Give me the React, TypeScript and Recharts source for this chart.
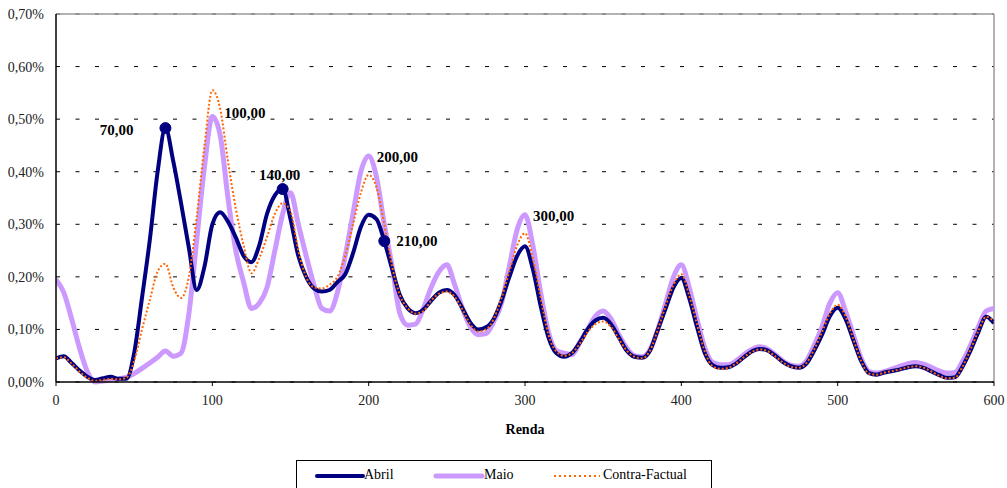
import React from "react";
import { LineChart, Line, XAxis, YAxis, CartesianGrid, ReferenceLine, Legend, LabelList } from "recharts";

const renda: number[] = [
  0, 5, 10, 15, 20, 25, 30, 35, 40, 45, 50, 55, 60, 65, 70, 75, 80, 85, 90, 95,
  100, 105, 110, 115, 120, 125, 130, 135, 140, 145, 150, 155, 160, 165, 170, 175, 180, 185, 190, 195,
  200, 205, 210, 215, 220, 225, 230, 235, 240, 245, 250, 255, 260, 265, 270, 275, 280, 285, 290, 295,
  300, 305, 310, 315, 320, 325, 330, 335, 340, 345, 350, 355, 360, 365, 370, 375, 380, 385, 390, 395,
  400, 405, 410, 415, 420, 425, 430, 435, 440, 445, 450, 455, 460, 465, 470, 475, 480, 485, 490, 495,
  500, 505, 510, 515, 520, 525, 530, 535, 540, 545, 550, 555, 560, 565, 570, 575, 580, 585, 590, 595, 600,
];

const abril: number[] = [
  0.045, 0.049, 0.036, 0.022, 0.01, 0.004, 0.007, 0.01, 0.006, 0.006, 0.055, 0.16, 0.27, 0.4, 0.483, 0.42, 0.34, 0.255, 0.175, 0.22,
  0.3, 0.323, 0.305, 0.275, 0.24, 0.228, 0.26, 0.32, 0.355, 0.367, 0.31, 0.24, 0.2, 0.178, 0.172, 0.175, 0.19, 0.205, 0.245, 0.295,
  0.318, 0.31, 0.268, 0.215, 0.165, 0.14, 0.131, 0.138, 0.155, 0.17, 0.175, 0.165, 0.14, 0.113, 0.1, 0.104, 0.12, 0.155, 0.2, 0.24,
  0.258, 0.215, 0.145, 0.085, 0.055, 0.048, 0.055, 0.075, 0.1, 0.117, 0.122, 0.11, 0.085, 0.06, 0.048, 0.046, 0.06, 0.1, 0.14, 0.18,
  0.198, 0.16, 0.105, 0.055, 0.032, 0.027, 0.028, 0.035, 0.047, 0.058, 0.063, 0.06, 0.05, 0.038, 0.03, 0.027, 0.035, 0.06, 0.09, 0.125,
  0.141, 0.12, 0.08, 0.04, 0.017, 0.014, 0.018, 0.021, 0.024, 0.028, 0.03, 0.027, 0.02, 0.013, 0.008, 0.009, 0.03, 0.06, 0.095, 0.124, 0.112,
];

const maio: number[] = [
  0.195, 0.17, 0.12, 0.065, 0.02, 0.0, 0.002, 0.004, 0.006, 0.009, 0.016, 0.026, 0.036, 0.047, 0.059, 0.049, 0.055, 0.13, 0.27, 0.41,
  0.505, 0.47, 0.35, 0.25, 0.19, 0.14, 0.15, 0.18, 0.25, 0.32, 0.36, 0.3, 0.24, 0.185, 0.14, 0.135, 0.17, 0.24, 0.32, 0.4,
  0.43, 0.39, 0.3, 0.22, 0.13, 0.108, 0.11, 0.14, 0.18, 0.21, 0.223, 0.185, 0.14, 0.105, 0.09, 0.092, 0.115, 0.15, 0.22, 0.29,
  0.318, 0.26, 0.17, 0.095, 0.06, 0.055, 0.052, 0.075, 0.1, 0.125, 0.135, 0.12, 0.09, 0.065, 0.05, 0.048, 0.062, 0.1, 0.15, 0.2,
  0.223, 0.18, 0.12, 0.065, 0.037, 0.033, 0.033, 0.04, 0.052, 0.062, 0.067, 0.063, 0.052, 0.04, 0.032, 0.03, 0.04, 0.07, 0.105, 0.15,
  0.17, 0.135, 0.09, 0.045, 0.02, 0.017, 0.02, 0.025, 0.03, 0.035, 0.037, 0.034, 0.028, 0.021, 0.017, 0.018, 0.04, 0.07, 0.105, 0.135, 0.14,
];

const contraFactual: number[] = [
  0.045, 0.047, 0.035, 0.02, 0.008, 0.002, 0.004, 0.006, 0.005, 0.008, 0.04, 0.1, 0.156, 0.21, 0.225, 0.18, 0.16, 0.2, 0.314, 0.45,
  0.555, 0.52, 0.42, 0.33, 0.26, 0.207, 0.235, 0.276, 0.32, 0.34, 0.325, 0.25, 0.2, 0.18, 0.178, 0.185, 0.2, 0.24, 0.3, 0.36,
  0.394, 0.37, 0.3, 0.22, 0.165, 0.14, 0.13, 0.135, 0.155, 0.168, 0.172, 0.162, 0.138, 0.11, 0.096, 0.1, 0.12, 0.16, 0.21, 0.26,
  0.283, 0.235, 0.16, 0.09, 0.058, 0.05, 0.055, 0.073, 0.095, 0.11, 0.115, 0.105, 0.082, 0.06, 0.048, 0.045, 0.06, 0.1, 0.145, 0.185,
  0.205, 0.165, 0.11, 0.058, 0.03, 0.025, 0.027, 0.035, 0.047, 0.057, 0.062, 0.059, 0.049, 0.037, 0.029, 0.027, 0.036, 0.062, 0.095, 0.13,
  0.147, 0.125, 0.082, 0.04, 0.016, 0.014, 0.018, 0.021, 0.024, 0.028, 0.03, 0.027, 0.02, 0.012, 0.007, 0.008, 0.03, 0.062, 0.097, 0.124, 0.115,
];

const xTicks: number[] = [0, 100, 200, 300, 400, 500, 600];
const yTicks: number[] = [0, 0.1, 0.2, 0.3, 0.4, 0.5, 0.6, 0.7];

const abrilMarks: number[] = [70, 145, 210];
const abrilMarkLabels: string[] = ["70,00", "140,00", "210,00"];
const maioMarks: number[] = [100, 200, 300];
const maioMarkLabels: string[] = ["100,00", "200,00", "300,00"];

const seriesNames = ["Abril", "Maio", "Contra-Factual"];

const data = renda.map((x, i) => ({
  x,
  abril: abril[i],
  maio: maio[i],
  cf: contraFactual[i],
}));

const NAVY = "#000080";
const LILAC = "#CC99FF";
const ORANGE = "#FF6600";
const FONT = "'Liberation Serif', 'Times New Roman', serif";

const fmtPct = (v: number) => v.toFixed(2).replace(".", ",") + "%";

const AbrilDot = (props: any) => {
  const { cx, cy, payload, index } = props;
  if (abrilMarks.includes(payload.x)) {
    return <circle key={`ad-${index}`} cx={cx} cy={cy} r={5.5} fill={NAVY} stroke={NAVY} />;
  }
  return <g key={`ad-${index}`} />;
};

const abrilLabelPos = [
  { dx: -32, dy: 7, anchor: "end" },
  { dx: -3, dy: -9, anchor: "middle" },
  { dx: 12, dy: 5, anchor: "start" },
];
const maioLabelPos = [
  { dx: 12, dy: 1, anchor: "start" },
  { dx: 8, dy: 6, anchor: "start" },
  { dx: 8, dy: 6, anchor: "start" },
];

const makeLabel = (marks: number[], texts: string[], pos: any[]) => (props: any) => {
  const { x, y, value, index } = props;
  const k = marks.indexOf(value);
  if (k < 0) return null;
  const p = pos[k];
  return (
    <text
      key={`lb-${index}`}
      x={x + p.dx}
      y={y + p.dy}
      textAnchor={p.anchor}
      style={{ fontFamily: FONT, fontSize: 15, fontWeight: "bold" }}
      fill="#000"
    >
      {texts[k]}
    </text>
  );
};

const legendItems = [
  { name: seriesNames[0], color: NAVY, width: 4, dash: undefined as string | undefined, x: 20, tx: 67 },
  { name: seriesNames[1], color: LILAC, width: 5, dash: undefined as string | undefined, x: 139, tx: 187 },
  { name: seriesNames[2], color: ORANGE, width: 2, dash: "2 3", x: 257, tx: 306 },
];

const LegendBox = () => (
  <div
    style={{
      width: 416,
      height: 30,
      border: "1px solid #000",
      background: "#fff",
      position: "relative",
      boxSizing: "border-box",
      fontFamily: FONT,
      fontSize: 14,
      color: "#000",
    }}
  >
    <svg width={416} height={30} style={{ position: "absolute", left: 0, top: 0 }}>
      {legendItems.map((it) => (
        <line
          key={it.name}
          x1={it.x}
          x2={it.x + 46}
          y1={15}
          y2={15}
          stroke={it.color}
          strokeWidth={it.width}
          strokeDasharray={it.dash}
          strokeLinecap={it.dash ? "butt" : "round"}
        />
      ))}
    </svg>
    {legendItems.map((it) => (
      <span
        key={it.name}
        style={{
          position: "absolute",
          left: it.tx,
          top: 6,
          lineHeight: "16px",
          fontFamily: FONT,
          fontSize: 14,
          whiteSpace: "nowrap",
        }}
      >
        {it.name}
      </span>
    ))}
  </div>
);

export default function App() {
  return (
    <div style={{ position: "absolute", left: 0, top: 0, width: 1007, height: 488, background: "#fff" }}>
      <LineChart
        width={1007}
        height={488}
        data={data}
        margin={{ top: 14, right: 13, left: 0, bottom: 0 }}
      >
        <CartesianGrid
          horizontal={true}
          vertical={false}
          stroke="#000"
          strokeDasharray="4 15.5"
          strokeWidth={1}
        />
        <ReferenceLine y={0.7} stroke="#999" strokeWidth={1.5} ifOverflow="visible" />
        <ReferenceLine x={600} stroke="#999" strokeWidth={1.5} ifOverflow="visible" />
        <XAxis
          type="number"
          dataKey="x"
          domain={[0, 600]}
          ticks={xTicks}
          allowDataOverflow
          height={76}
          tickSize={4}
          tickMargin={9}
          axisLine={{ stroke: "#000", strokeWidth: 1.5 }}
          tickLine={{ stroke: "#000" }}
          tick={{ fontFamily: FONT, fontSize: 14, fill: "#222" }}
          label={{
            value: "Renda",
            position: "insideBottom",
            offset: 24,
            style: { fontFamily: FONT, fontSize: 14, fontWeight: "bold", fill: "#000" },
          }}
        />
        <YAxis
          type="number"
          domain={[0, 0.7]}
          ticks={yTicks}
          width={56}
          tickLine={false}
          tickSize={0}
          tickMargin={12}
          axisLine={{ stroke: "#000", strokeWidth: 1.5 }}
          tick={{ fontFamily: FONT, fontSize: 14, fill: "#222" }}
          tickFormatter={fmtPct}
        />
        <Legend
          verticalAlign="bottom"
          content={() => <LegendBox />}
          wrapperStyle={{ left: 296, top: 460, width: 416, height: 30 }}
        />
        <Line
          type="monotone"
          dataKey="maio"
          name={seriesNames[1]}
          stroke={LILAC}
          strokeWidth={5}
          dot={false}
          isAnimationActive={false}
        >
          <LabelList dataKey="x" content={makeLabel(maioMarks, maioMarkLabels, maioLabelPos)} />
        </Line>
        <Line
          type="monotone"
          dataKey="abril"
          name={seriesNames[0]}
          stroke={NAVY}
          strokeWidth={4}
          dot={AbrilDot}
          activeDot={false}
          isAnimationActive={false}
        >
          <LabelList dataKey="x" content={makeLabel(abrilMarks, abrilMarkLabels, abrilLabelPos)} />
        </Line>
        <Line
          type="monotone"
          dataKey="cf"
          name={seriesNames[2]}
          stroke={ORANGE}
          strokeWidth={2}
          strokeDasharray="2 2"
          dot={false}
          isAnimationActive={false}
        />
      </LineChart>
    </div>
  );
}
